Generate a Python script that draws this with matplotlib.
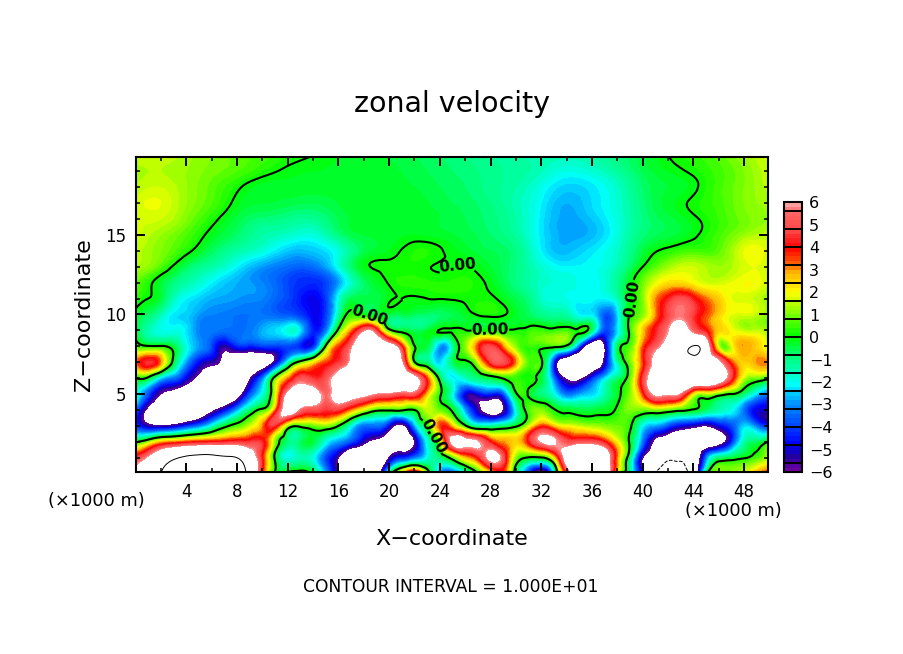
import matplotlib
matplotlib.use('Agg')
import matplotlib.pyplot as plt
import matplotlib.tri as mtri
import numpy as np
from matplotlib.cm import ScalarMappable
from matplotlib.colors import BoundaryNorm, LinearSegmentedColormap

W, H = 904, 654

# km, lower part of the section is read every 1 km, upper part every 2 km
x_low = np.arange(0, 51, 1)
x_high = np.arange(0, 51, 2)
z_low = np.arange(0, 12, 1)
z_high = np.arange(12, 21, 1)

u_low = [
    [6,7.5,10,11,12,12,12,12,11.5,9, 4,-0.2,0.3,0.5,-0.3,-3,-6,-8,-9,-8, -1,3,6,1,-3,-4,-1.5,0,2,4, -0.5,-4,-8,-2,4,8,9,8,1.5,-1.5, -6,-10.5,-11,-11,-9,-0.3,0.5,1,1.5,3,4],
    [4.5,6,8,9.5,10.5,11,11,10.5,10,7.5, 4,-0.2,-2,-1.5,-2,-4,-6,-9,-9,-9, -6,-4.5,-3.5,-2,-1,0.5,2.5,4,6.5,5, 1,-0.1,-0.1,2,7,9,9,7.5,3,-1, -6,-8,-9.5,-9.5,-8.5,-3.5,-1,-0.5,-0.1,0.5,1.5],
    [-0.3,1,2.5,3,3.5,3.8,4,4.2,4.5,4.5, 4.3,1,-1,-0.8,-0.5,-2,-3,-4,-5.5,-6.5, -7,-7.5,-6,-2,1,6.5,6.5,6,4,3, 2.5,4,6,6.2,5,5,5,4,2,-0.2, -3.5,-6.5,-7.5,-8,-8,-8,-7,-4.5,-1.5,-0.8,0.3],
    [-4,-5.5,-5.8,-5.5,-4.5,-3.5,-2,-0.4,0.5,1.5, 3,4.3,1,0.3,0.7,1,0,-2,-3.5,-3.5, -5,-6.5,-3,0,3.5,2.5,0.2,-1.5,-1.5,-1, -0.2,1.5,3.5,2.5,1.8,1.5,1.2,1,0.8,0.2, -2.2,-3,-4,-5,-5.5,-6,-5,-4,-2.5,-3.5,-4.5],
    [-3.5,-6.5,-8,-9,-9,-8,-6.5,-5,-3,-1, 0.3,3,7,5.5,5,4.5,4.5,3,1.5,0.3, 0.2,0.2,0,1.5,0.8,-0.2,-3,-5.5,-7,-6, -2,0.5,1,0.1,-0.3,-0.5,-0.5,-0.3,0.2,1, 0.8,1,0.7,0.3,-0.1,-0.8,-1.5,-2,-3.5,-5,-5],
    [-1.5,-4,-6,-6.7,-7.5,-8,-9,-9,-7.5,-4, -2,1.5,6.3,7.5,7,5.5,7,7,6.5,5.7, 5.5,5,5,2.5,0.2,-2,-5,-5,-4.5,-4, -0.2,-0.1,-1,-2,-3.5,-3,-2.5,-1.5,-0.3,1, 3.5,6.2,6,5.5,2,1.3,0.6,0,-1,-2.5,-3.5],
    [0,-0.3,-2.5,-3.5,-5,-6.5,-8,-9,-9,-6.3, -3.5,0.5,3,5,4.5,5,7,8.5,9,9, 9,8.5,6.5,3.5,-0.5,-2.2,-1.7,-1,-0.5,0.1, 0.4,0.1,-0.5,-3.5,-6.3,-6.5,-4.5,-2.5,-1,0.7, 4.5,7,8,9,9,9,7.5,4.5,1.5,0.8,0.2],
    [3,4.5,3,-0.4,-3,-4.8,-5.5,-6.7,-8,-8, -7.5,-5.5,-2,0.5,2,3.5,4.5,6.3,8.5,8.5, 8,6,0.1,-1,-2.5,-0.8,-0.2,1.5,4.5,5, 3,0.6,0.2,-4.5,-8,-8.5,-8.5,-5.5,-1.5,0.8, 3.5,6.5,8,8.5,9,8,6.3,3.5,2.5,3,3],
    [0.7,0.1,0.1,-0.5,-2,-3,-4,-5.5,-4.5,-4.5, -4.2,-4.2,-4,-4.5,-4.5,0.2,3.5,5.5,8,8, 7,4,0.05,-0.5,-3,-1.5,1,3.5,4.8,3, 1,0.4,0.3,0.3,-0.3,-4,-8,-6,-0.8,0.6, 3.3,5.2,7,8.5,10.15,7.5,1.5,1.7,3,2.5,1.5],
    [-0.5,-1.5,-2,-2,-2.3,-3.2,-3.3,-3.5,-3.5,-3.3, -2.8,-2.4,-1.9,-2.4,-4.5,-3.5,0.3,3,5.5,4.5, 0.4,-0.4,-0.7,-0.4,0.05,0.1,0.05,0.05,0.05,0.05, 0.1,0.3,0.4,0.3,0.5,0.2,-1,-4,-2.5,0.3, 2.5,4.2,5.8,6.8,5.3,4,2.5,2,1.5,1.5,1],
    [-0.2,-0.8,-1.5,-2.3,-2.5,-3,-3.2,-3.3,-3.4,-3.4, -3.4,-3.6,-3.8,-4.2,-4.9,-4.2,-1.5,0.3,-0.1,-0.3, -0.5,-0.6,-0.7,-0.8,-0.8,-0.6,-0.3,0.05,0.15,0.05, -0.3,-0.7,-1.1,-1.3,-1.4,-2.2,-2.3,-3.8,-2.5,0.1, 1,3,4.8,5.7,4.6,3.5,2.5,1.8,1.7,1.5,1],
    [0.3,0,-0.5,-1.6,-2.2,-2.5,-2.8,-2.9,-3,-3.1, -3.2,-3.6,-4,-4.6,-4.9,-4.2,-2,-0.6,-0.5,-0.5, -0.1,0,-0.05,0,0.02,0.05,0.1,0.15,0.1,-0.2, -0.6,-1,-1.7,-1.9,-2,-2.1,-2.1,-2.2,-1.6,-0.2, 1,3,4.2,5,4.2,3.2,2.5,1.8,1.7,1.5,1.2],
]

u_high = [
    [0.8,-0.4,-1.4,-2.2,-2.8,-3.2,-4,-4.4,-3,-0.8,0.05,0.25,0.2,0.25,-0.15,-1,-1.7,-1.9,-2.1,-1.2,0.8,2.3,2,1.6,2,1.5],
    [1.4,0.6,-0.7,-1.4,-2.2,-3,-3.5,-3.5,-2,-0.15,0.1,0.15,-0.04,0.02,-0.4,-1,-1.8,-2.2,-2.1,-1.5,0,1.2,1.6,1.2,1.7,1.7],
    [1.5,1,0.2,-0.7,-1.4,-1.9,-2.6,-2.6,-1.9,-0.6,-0.2,0.2,0.05,-0.3,-0.6,-1,-2.2,-2.7,-2.3,-1.7,-0.5,0.2,0.5,0.7,1.8,1.6],
    [1.7,1.2,0.6,-0.2,-0.8,-1.4,-1.7,-1.9,-1,-0.4,-0.3,-0.2,-0.3,-0.5,-0.8,-1.3,-2.3,-2.9,-2.7,-1.9,-0.9,-0.5,-0.1,0.5,1.2,1.5],
    [1.6,1.6,1,0.2,-0.5,-0.9,-1.1,-1.2,-0.6,-0.3,-0.3,-0.3,-0.4,-0.6,-0.9,-1.4,-2.3,-2.9,-2.6,-1.9,-1,-0.5,-0.1,0.4,0.9,1.2],
    [1.7,1.8,1.2,0.6,-0.15,-0.4,-0.5,-0.6,-0.4,-0.3,-0.3,-0.3,-0.5,-0.7,-1,-1.5,-2.2,-2.8,-2.4,-1.8,-0.9,-0.3,0.1,0.5,1,1.3],
    [1.4,1.6,1.2,0.7,0.1,-0.3,-0.3,-0.3,-0.3,-0.3,-0.3,-0.4,-0.6,-0.8,-1.1,-1.4,-2,-2.5,-2.3,-1.7,-0.8,-0.4,-0.1,0.5,1,1.5],
    [1.3,1.4,1.2,0.9,0.6,0.2,-0.1,-0.2,-0.25,-0.3,-0.35,-0.5,-0.7,-0.9,-1.1,-1.3,-1.6,-2,-1.8,-1.3,-0.6,-0.2,0.1,0.5,1,1.6],
    [1.5,1.6,1.3,1,0.7,0.5,0.2,0,-0.2,-0.3,-0.4,-0.6,-0.8,-1,-1.2,-1.4,-1.5,-1.5,-1.4,-1,-0.5,0,0.3,0.7,1.2,1.7],
]

color_pos = [-6, -5.4, -4.8, -4, -3.2, -2.4, -2.2, -1.6, -0.8, 0, 0.8, 1.6, 2, 2.4, 3, 3.2, 4, 4.8, 5.6, 6]
color_val = [(110,0,160), (30,0,160), (0,0,255), (0,70,255), (0,130,255), (0,220,255), (0,255,255),
             (0,255,190), (0,255,110), (0,255,0), (100,255,0), (200,255,0), (255,255,0), (255,220,0),
             (255,170,0), (255,110,0), (255,0,0), (255,70,70), (255,100,100), (255,160,160)]

x_tick = np.arange(4, 49, 4)
z_tick = [5, 10, 15]
cb_ticks = np.arange(-6, 7, 1)
label_pos = [(25.3, 13.3), (18.3, 9.5), (28.0, 8.9), (23.4, 2.3), (39.4, 11.0)]

# gather both blocks of the section into one triangulation
xl, zl = np.meshgrid(x_low, z_low)
xh, zh = np.meshgrid(x_high, z_high)
px = np.concatenate([xl.ravel(), xh.ravel()]).astype(float)
pz = np.concatenate([zl.ravel(), zh.ravel()]).astype(float)
pu = np.concatenate([np.array(u_low, dtype=float).ravel(), np.array(u_high, dtype=float).ravel()])

tri = mtri.Triangulation(px, pz)
refiner = mtri.UniformTriRefiner(tri)
tri_f, u_f = refiner.refine_field(pu, subdiv=3)

pos = [(p + 6) / 12 for p in color_pos]
cols = [(r / 255, g / 255, b / 255) for r, g, b in color_val]
cmap = LinearSegmentedColormap.from_list('zonal', list(zip(pos, cols)), N=256)
cmap.set_over('white')
cmap.set_under('white')

fig = plt.figure(figsize=(W / 100, H / 100), dpi=100, facecolor='white')
ax = fig.add_axes([136 / W, 1 - 472 / H, 632 / W, 315 / H])

levels = np.arange(-6, 6.01, 0.2)
cf = ax.tricontourf(tri_f, u_f, levels=levels, cmap=cmap, vmin=-6, vmax=6, extend='both', antialiased=False)

ax.tricontour(tri_f, u_f, levels=[10], colors='k', linewidths=0.7, linestyles='solid')
ax.tricontour(tri_f, u_f, levels=[-10], colors='k', linewidths=0.7, linestyles='dashed')
cs0 = ax.tricontour(tri_f, u_f, levels=[0], colors='k', linewidths=1.5, linestyles='solid')
labs = ax.clabel(cs0, fmt='%.2f', fontsize=11, inline=True, inline_spacing=2, manual=label_pos)
for t in labs:
    t.set_fontweight('bold')

ax.set_xlim(0.04, 49.88)
ax.set_ylim(0.1, 19.9)
ax.set_xticks(x_tick)
ax.set_xticks(np.arange(2, 50, 2), minor=True)
ax.set_yticks(z_tick)
ax.set_yticks(np.arange(1, 20, 1), minor=True)
ax.tick_params(which='major', direction='in', length=6.5, width=1.4, top=True, right=True, labelsize=12, pad=8)
ax.tick_params(which='minor', direction='in', length=3.2, width=1.1, top=True, right=True)
ax.tick_params(axis='y', which='major', pad=7)
for s in ax.spines.values():
    s.set_linewidth(1.5)

cax = fig.add_axes([784 / W, 1 - 472 / H, 18 / W, 270 / H])
sm = ScalarMappable(norm=BoundaryNorm(levels, cmap.N), cmap=cmap)
cb = fig.colorbar(sm, cax=cax, ticks=cb_ticks)
cb.ax.minorticks_off()
cb.ax.tick_params(length=0, labelsize=11.5, pad=5)
cb.outline.set_linewidth(1.5)
cax.hlines(np.arange(-5.6, 5.7, 0.8), 0, 1, transform=cax.get_yaxis_transform(), colors='k', linewidth=1.4)

def put(px_x, px_y, s, **kw):
    fig.text(px_x / W, 1 - px_y / H, s, ha='center', va='center', **kw)

put(452, 104, 'zonal velocity', fontsize=20.5)
put(452, 539, 'X\u2212coordinate', fontsize=16)
put(84, 315, 'Z\u2212coordinate', fontsize=16, rotation=90)
put(451, 587, 'CONTOUR INTERVAL = 1.000E+01', fontsize=12.3)
put(96, 501, '(\u00d71000 m)', fontsize=12.8)
put(733, 511, '(\u00d71000 m)', fontsize=12.8)

fig.savefig('out.png', dpi=100)
